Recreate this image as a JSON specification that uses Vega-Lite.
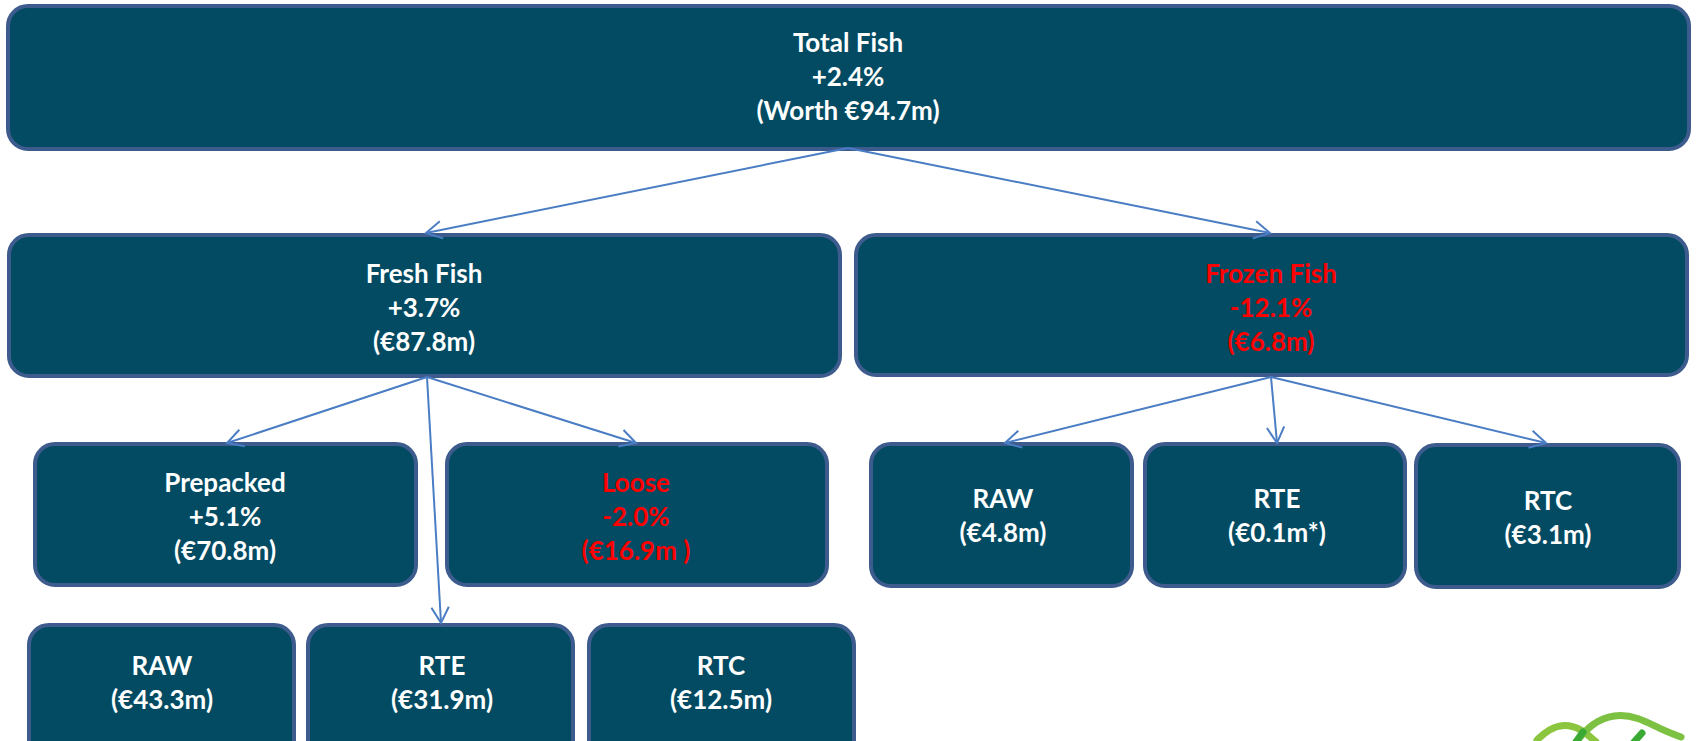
{
  "$schema": "https://vega.github.io/schema/vega-lite/v6.json",
  "autosize": {"type": "fit", "contains": "padding"},
  "width": 1696,
  "height": 741,
  "padding": 0,
  "background": "#ffffff",
  "config": {"view": {"stroke": null}},
  "datasets": {
    "boxes": [
      {"node": "Total Fish", "x1": 8, "x2": 1689, "y1": 6, "y2": 149, "label": "Total Fish\n+2.4%\n(Worth €94.7m)", "trend": "up", "tx": 848, "ty": 44},
      {"node": "Fresh Fish", "x1": 9, "x2": 840, "y1": 235, "y2": 376, "label": "Fresh Fish\n+3.7%\n(€87.8m)", "trend": "up", "tx": 424, "ty": 275},
      {"node": "Frozen Fish", "x1": 856, "x2": 1687, "y1": 235, "y2": 375, "label": "Frozen Fish\n-12.1%\n(€6.8m)", "trend": "down", "tx": 1271, "ty": 275},
      {"node": "Prepacked", "x1": 35, "x2": 416, "y1": 444, "y2": 585, "label": "Prepacked\n+5.1%\n(€70.8m)", "trend": "up", "tx": 225, "ty": 484},
      {"node": "Loose", "x1": 447, "x2": 827, "y1": 444, "y2": 585, "label": "Loose\n-2.0%\n(€16.9m )", "trend": "down", "tx": 636, "ty": 484},
      {"node": "Frozen RAW", "x1": 871, "x2": 1132, "y1": 444, "y2": 586, "label": "RAW\n(€4.8m)", "trend": "up", "tx": 1003, "ty": 500},
      {"node": "Frozen RTE", "x1": 1145, "x2": 1405, "y1": 444, "y2": 586, "label": "RTE\n(€0.1m*)", "trend": "up", "tx": 1277, "ty": 500},
      {"node": "Frozen RTC", "x1": 1416, "x2": 1679, "y1": 445, "y2": 587, "label": "RTC\n(€3.1m)", "trend": "up", "tx": 1548, "ty": 502},
      {"node": "Fresh RAW", "x1": 29, "x2": 294, "y1": 625, "y2": 790, "label": "RAW\n(€43.3m)", "trend": "up", "tx": 162, "ty": 667},
      {"node": "Fresh RTE", "x1": 308, "x2": 573, "y1": 625, "y2": 790, "label": "RTE\n(€31.9m)", "trend": "up", "tx": 442, "ty": 667},
      {"node": "Fresh RTC", "x1": 589, "x2": 854, "y1": 625, "y2": 790, "label": "RTC\n(€12.5m)", "trend": "up", "tx": 721, "ty": 667}
    ],
    "arrows": [
      {"from": "Total Fish", "to": "Fresh Fish", "x1": 848, "y1": 148, "x2": 426, "y2": 233},
      {"from": "Total Fish", "to": "Frozen Fish", "x1": 848, "y1": 148, "x2": 1270, "y2": 233},
      {"from": "Fresh Fish", "to": "Prepacked", "x1": 427, "y1": 377, "x2": 227, "y2": 443},
      {"from": "Fresh Fish", "to": "Loose", "x1": 427, "y1": 377, "x2": 636, "y2": 443},
      {"from": "Fresh Fish", "to": "Fresh RTE", "x1": 427, "y1": 377, "x2": 441, "y2": 623},
      {"from": "Frozen Fish", "to": "Frozen RAW", "x1": 1271, "y1": 377, "x2": 1005, "y2": 443},
      {"from": "Frozen Fish", "to": "Frozen RTE", "x1": 1271, "y1": 377, "x2": 1277, "y2": 443},
      {"from": "Frozen Fish", "to": "Frozen RTC", "x1": 1271, "y1": 377, "x2": 1546, "y2": 443}
    ],
    "logo": [
      {"arc": "a", "seq": 1, "x": 1537, "y": 740},
      {"arc": "a", "seq": 2, "x": 1549, "y": 729},
      {"arc": "a", "seq": 3, "x": 1564, "y": 724},
      {"arc": "a", "seq": 4, "x": 1580, "y": 728},
      {"arc": "a", "seq": 5, "x": 1596, "y": 742},
      {"arc": "b", "seq": 1, "x": 1576, "y": 742},
      {"arc": "b", "seq": 2, "x": 1592, "y": 723},
      {"arc": "b", "seq": 3, "x": 1614, "y": 714},
      {"arc": "b", "seq": 4, "x": 1638, "y": 717},
      {"arc": "b", "seq": 5, "x": 1660, "y": 729},
      {"arc": "b", "seq": 6, "x": 1681, "y": 737},
      {"arc": "c", "seq": 1, "x": 1576, "y": 742},
      {"arc": "c", "seq": 2, "x": 1583, "y": 732},
      {"arc": "d", "seq": 1, "x": 1634, "y": 742},
      {"arc": "d", "seq": 2, "x": 1642, "y": 733}
    ]
  },
  "encoding": {},
  "layer": [
    {
      "data": {"name": "boxes"},
      "mark": {"type": "rect", "cornerRadius": 20, "fill": "#024B63", "stroke": "#3D5B8C", "strokeWidth": 4, "clip": true},
      "encoding": {
        "x": {"field": "x1", "type": "quantitative", "scale": {"domain": [0, 1696], "nice": false, "zero": false}, "axis": null},
        "x2": {"field": "x2"},
        "y": {"field": "y1", "type": "quantitative", "scale": {"domain": [0, 741], "nice": false, "zero": false, "reverse": true}, "axis": null},
        "y2": {"field": "y2"}
      }
    },
    {
      "data": {"name": "arrows"},
      "mark": {"type": "rule", "color": "#4A7DC4", "strokeWidth": 2},
      "encoding": {
        "x": {"field": "x1", "type": "quantitative"},
        "x2": {"field": "x2"},
        "y": {"field": "y1", "type": "quantitative"},
        "y2": {"field": "y2"}
      }
    },
    {
      "data": {"name": "arrows"},
      "transform": [{"calculate": "atan2(datum.y2 - datum.y1, datum.x2 - datum.x1) * 180 / PI", "as": "ang"}],
      "mark": {"type": "point", "shape": "M-1,-0.55L0,0L-1,0.55", "filled": false, "stroke": "#4A7DC4", "strokeWidth": 2, "size": 1000, "opacity": 1},
      "encoding": {
        "x": {"field": "x2", "type": "quantitative"},
        "y": {"field": "y2", "type": "quantitative"},
        "angle": {"field": "ang", "type": "quantitative", "scale": null}
      }
    },
    {
      "data": {"name": "boxes"},
      "mark": {"type": "text", "font": "Lato", "fontWeight": "bold", "fontSize": 26, "lineBreak": "\n", "lineHeight": 34, "align": "center", "baseline": "middle"},
      "encoding": {
        "x": {"field": "tx", "type": "quantitative"},
        "y": {"field": "ty", "type": "quantitative"},
        "text": {"field": "label"},
        "fill": {"field": "trend", "type": "nominal", "scale": {"domain": ["up", "down"], "range": ["#FFFFFF", "#FF0000"]}, "legend": null}
      }
    },
    {
      "data": {"name": "logo"},
      "mark": {"type": "line", "interpolate": "basis", "strokeWidth": 7, "strokeCap": "round", "clip": true},
      "encoding": {
        "x": {"field": "x", "type": "quantitative"},
        "y": {"field": "y", "type": "quantitative"},
        "order": {"field": "seq"},
        "detail": {"field": "arc"},
        "stroke": {"field": "arc", "type": "nominal", "scale": {"domain": ["a", "b", "c", "d"], "range": ["#8CC63F", "#7CC142", "#3AAA35", "#3AAA35"]}, "legend": null}
      }
    }
  ]
}
